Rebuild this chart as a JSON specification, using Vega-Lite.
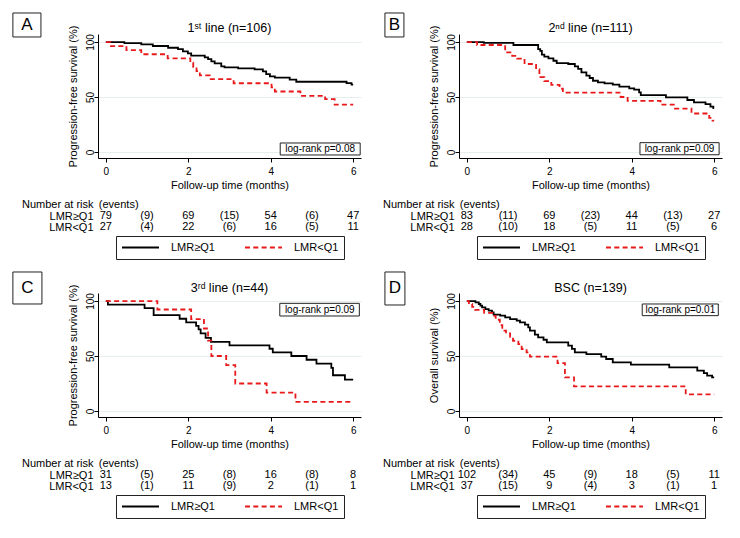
{
"$schema": "https://vega.github.io/schema/vega-lite/v6.json",
"background": "white",
"padding": {"left": 12, "top": 12, "right": 5, "bottom": 5},
"config": {
  "font": "Liberation Sans",
  "view": {"stroke": null},
  "axis": {"domainColor": "#000", "tickColor": "#000", "labelColor": "#000", "titleColor": "#000", "titleFontWeight": "normal", "labelFontSize": 10, "titleFontSize": 11, "tickSize": 4, "labelFlush": false, "labelOverlap": false},
  "legend": {"layout": {"anchor": "middle"}}
},
"datasets": {
  "panels": [
    {"p": "A", "letter": "A", "title": "1ˢᵗ line (n=106)", "logrank": "log-rank p=0.08"},
    {"p": "B", "letter": "B", "title": "2ⁿᵈ line (n=111)", "logrank": "log-rank p=0.09"},
    {"p": "C", "letter": "C", "title": "3ʳᵈ line (n=44)", "logrank": "log-rank p=0.09"},
    {"p": "D", "letter": "D", "title": "BSC (n=139)", "logrank": "log-rank p=0.01"}
  ],
  "risk": [
    {"p": "A", "row": "Number at risk", "t": 0, "label": "(events)"},
    {"p": "A", "row": "LMR≥Q1", "t": 0, "label": "79"}, {"p": "A", "row": "LMR≥Q1", "t": 1, "label": "(9)"}, {"p": "A", "row": "LMR≥Q1", "t": 2, "label": "69"}, {"p": "A", "row": "LMR≥Q1", "t": 3, "label": "(15)"}, {"p": "A", "row": "LMR≥Q1", "t": 4, "label": "54"}, {"p": "A", "row": "LMR≥Q1", "t": 5, "label": "(6)"}, {"p": "A", "row": "LMR≥Q1", "t": 6, "label": "47"},
    {"p": "A", "row": "LMR<Q1", "t": 0, "label": "27"}, {"p": "A", "row": "LMR<Q1", "t": 1, "label": "(4)"}, {"p": "A", "row": "LMR<Q1", "t": 2, "label": "22"}, {"p": "A", "row": "LMR<Q1", "t": 3, "label": "(6)"}, {"p": "A", "row": "LMR<Q1", "t": 4, "label": "16"}, {"p": "A", "row": "LMR<Q1", "t": 5, "label": "(5)"}, {"p": "A", "row": "LMR<Q1", "t": 6, "label": "11"},
    {"p": "B", "row": "Number at risk", "t": 0, "label": "(events)"},
    {"p": "B", "row": "LMR≥Q1", "t": 0, "label": "83"}, {"p": "B", "row": "LMR≥Q1", "t": 1, "label": "(11)"}, {"p": "B", "row": "LMR≥Q1", "t": 2, "label": "69"}, {"p": "B", "row": "LMR≥Q1", "t": 3, "label": "(23)"}, {"p": "B", "row": "LMR≥Q1", "t": 4, "label": "44"}, {"p": "B", "row": "LMR≥Q1", "t": 5, "label": "(13)"}, {"p": "B", "row": "LMR≥Q1", "t": 6, "label": "27"},
    {"p": "B", "row": "LMR<Q1", "t": 0, "label": "28"}, {"p": "B", "row": "LMR<Q1", "t": 1, "label": "(10)"}, {"p": "B", "row": "LMR<Q1", "t": 2, "label": "18"}, {"p": "B", "row": "LMR<Q1", "t": 3, "label": "(5)"}, {"p": "B", "row": "LMR<Q1", "t": 4, "label": "11"}, {"p": "B", "row": "LMR<Q1", "t": 5, "label": "(5)"}, {"p": "B", "row": "LMR<Q1", "t": 6, "label": "6"},
    {"p": "C", "row": "Number at risk", "t": 0, "label": "(events)"},
    {"p": "C", "row": "LMR≥Q1", "t": 0, "label": "31"}, {"p": "C", "row": "LMR≥Q1", "t": 1, "label": "(5)"}, {"p": "C", "row": "LMR≥Q1", "t": 2, "label": "25"}, {"p": "C", "row": "LMR≥Q1", "t": 3, "label": "(8)"}, {"p": "C", "row": "LMR≥Q1", "t": 4, "label": "16"}, {"p": "C", "row": "LMR≥Q1", "t": 5, "label": "(8)"}, {"p": "C", "row": "LMR≥Q1", "t": 6, "label": "8"},
    {"p": "C", "row": "LMR<Q1", "t": 0, "label": "13"}, {"p": "C", "row": "LMR<Q1", "t": 1, "label": "(1)"}, {"p": "C", "row": "LMR<Q1", "t": 2, "label": "11"}, {"p": "C", "row": "LMR<Q1", "t": 3, "label": "(9)"}, {"p": "C", "row": "LMR<Q1", "t": 4, "label": "2"}, {"p": "C", "row": "LMR<Q1", "t": 5, "label": "(1)"}, {"p": "C", "row": "LMR<Q1", "t": 6, "label": "1"},
    {"p": "D", "row": "Number at risk", "t": 0, "label": "(events)"},
    {"p": "D", "row": "LMR≥Q1", "t": 0, "label": "102"}, {"p": "D", "row": "LMR≥Q1", "t": 1, "label": "(34)"}, {"p": "D", "row": "LMR≥Q1", "t": 2, "label": "45"}, {"p": "D", "row": "LMR≥Q1", "t": 3, "label": "(9)"}, {"p": "D", "row": "LMR≥Q1", "t": 4, "label": "18"}, {"p": "D", "row": "LMR≥Q1", "t": 5, "label": "(5)"}, {"p": "D", "row": "LMR≥Q1", "t": 6, "label": "11"},
    {"p": "D", "row": "LMR<Q1", "t": 0, "label": "37"}, {"p": "D", "row": "LMR<Q1", "t": 1, "label": "(15)"}, {"p": "D", "row": "LMR<Q1", "t": 2, "label": "9"}, {"p": "D", "row": "LMR<Q1", "t": 3, "label": "(4)"}, {"p": "D", "row": "LMR<Q1", "t": 4, "label": "3"}, {"p": "D", "row": "LMR<Q1", "t": 5, "label": "(1)"}, {"p": "D", "row": "LMR<Q1", "t": 6, "label": "1"}
  ],
  "km": [
    {"p":"A","g":"LMR≥Q1","t":0,"s":100},{"p":"A","g":"LMR≥Q1","t":0.45,"s":99},{"p":"A","g":"LMR≥Q1","t":0.86,"s":97.9},{"p":"A","g":"LMR≥Q1","t":1.14,"s":96.4},{"p":"A","g":"LMR≥Q1","t":1.51,"s":94.8},{"p":"A","g":"LMR≥Q1","t":1.75,"s":93.6},{"p":"A","g":"LMR≥Q1","t":1.87,"s":91.5},{"p":"A","g":"LMR≥Q1","t":1.99,"s":89.7},{"p":"A","g":"LMR≥Q1","t":2.07,"s":87.6},{"p":"A","g":"LMR≥Q1","t":2.4,"s":86.1},{"p":"A","g":"LMR≥Q1","t":2.48,"s":84.5},{"p":"A","g":"LMR≥Q1","t":2.56,"s":82.4},{"p":"A","g":"LMR≥Q1","t":2.64,"s":80.6},{"p":"A","g":"LMR≥Q1","t":2.8,"s":77.9},{"p":"A","g":"LMR≥Q1","t":2.88,"s":77},{"p":"A","g":"LMR≥Q1","t":3.21,"s":76.1},{"p":"A","g":"LMR≥Q1","t":3.61,"s":75.2},{"p":"A","g":"LMR≥Q1","t":3.81,"s":73.3},{"p":"A","g":"LMR≥Q1","t":3.89,"s":70.9},{"p":"A","g":"LMR≥Q1","t":3.98,"s":68.8},{"p":"A","g":"LMR≥Q1","t":4.1,"s":67.6},{"p":"A","g":"LMR≥Q1","t":4.46,"s":65.8},{"p":"A","g":"LMR≥Q1","t":4.62,"s":63.9},{"p":"A","g":"LMR≥Q1","t":5.84,"s":62.7},{"p":"A","g":"LMR≥Q1","t":5.96,"s":61.2},{"p":"A","g":"LMR≥Q1","t":6,"s":61.2},
    {"p":"A","g":"LMR<Q1","t":0,"s":100},{"p":"A","g":"LMR<Q1","t":0.12,"s":96.3},{"p":"A","g":"LMR<Q1","t":0.5,"s":92.6},{"p":"A","g":"LMR<Q1","t":0.86,"s":88.9},{"p":"A","g":"LMR<Q1","t":1.5,"s":85.2},{"p":"A","g":"LMR<Q1","t":2.05,"s":81.3},{"p":"A","g":"LMR<Q1","t":2.12,"s":77.4},{"p":"A","g":"LMR<Q1","t":2.2,"s":73.6},{"p":"A","g":"LMR<Q1","t":2.28,"s":69.7},{"p":"A","g":"LMR<Q1","t":2.52,"s":66.3},{"p":"A","g":"LMR<Q1","t":3.1,"s":62.5},{"p":"A","g":"LMR<Q1","t":4.02,"s":58.8},{"p":"A","g":"LMR<Q1","t":4.1,"s":55},{"p":"A","g":"LMR<Q1","t":4.72,"s":51.1},{"p":"A","g":"LMR<Q1","t":5.32,"s":48.1},{"p":"A","g":"LMR<Q1","t":5.55,"s":43},{"p":"A","g":"LMR<Q1","t":6,"s":43},
    {"p":"B","g":"LMR≥Q1","t":0,"s":100},{"p":"B","g":"LMR≥Q1","t":0.41,"s":99.3},{"p":"B","g":"LMR≥Q1","t":1.13,"s":97.3},{"p":"B","g":"LMR≥Q1","t":1.73,"s":93.6},{"p":"B","g":"LMR≥Q1","t":1.78,"s":92},{"p":"B","g":"LMR≥Q1","t":1.82,"s":88.5},{"p":"B","g":"LMR≥Q1","t":1.88,"s":86.7},{"p":"B","g":"LMR≥Q1","t":1.98,"s":85.2},{"p":"B","g":"LMR≥Q1","t":2.1,"s":83},{"p":"B","g":"LMR≥Q1","t":2.18,"s":80.9},{"p":"B","g":"LMR≥Q1","t":2.46,"s":80},{"p":"B","g":"LMR≥Q1","t":2.62,"s":77.9},{"p":"B","g":"LMR≥Q1","t":2.7,"s":75.5},{"p":"B","g":"LMR≥Q1","t":2.78,"s":72.4},{"p":"B","g":"LMR≥Q1","t":2.9,"s":69.4},{"p":"B","g":"LMR≥Q1","t":2.98,"s":67.3},{"p":"B","g":"LMR≥Q1","t":3.06,"s":64.8},{"p":"B","g":"LMR≥Q1","t":3.18,"s":63.3},{"p":"B","g":"LMR≥Q1","t":3.34,"s":62.4},{"p":"B","g":"LMR≥Q1","t":3.54,"s":61.2},{"p":"B","g":"LMR≥Q1","t":3.7,"s":59.4},{"p":"B","g":"LMR≥Q1","t":3.94,"s":57.9},{"p":"B","g":"LMR≥Q1","t":4.06,"s":56.7},{"p":"B","g":"LMR≥Q1","t":4.18,"s":54.2},{"p":"B","g":"LMR≥Q1","t":4.22,"s":51.8},{"p":"B","g":"LMR≥Q1","t":4.83,"s":49.7},{"p":"B","g":"LMR≥Q1","t":5.35,"s":47.3},{"p":"B","g":"LMR≥Q1","t":5.51,"s":45.2},{"p":"B","g":"LMR≥Q1","t":5.79,"s":43.6},{"p":"B","g":"LMR≥Q1","t":5.91,"s":41.2},{"p":"B","g":"LMR≥Q1","t":5.98,"s":40},{"p":"B","g":"LMR≥Q1","t":6,"s":40},
    {"p":"B","g":"LMR<Q1","t":0,"s":100},{"p":"B","g":"LMR<Q1","t":0.25,"s":97.3},{"p":"B","g":"LMR<Q1","t":0.93,"s":90.6},{"p":"B","g":"LMR<Q1","t":1.1,"s":87.5},{"p":"B","g":"LMR<Q1","t":1.22,"s":85},{"p":"B","g":"LMR<Q1","t":1.4,"s":80},{"p":"B","g":"LMR<Q1","t":1.68,"s":75},{"p":"B","g":"LMR<Q1","t":1.76,"s":68},{"p":"B","g":"LMR<Q1","t":1.88,"s":64.5},{"p":"B","g":"LMR<Q1","t":2.05,"s":61},{"p":"B","g":"LMR<Q1","t":2.25,"s":57.5},{"p":"B","g":"LMR<Q1","t":2.33,"s":54},{"p":"B","g":"LMR<Q1","t":3.73,"s":50},{"p":"B","g":"LMR<Q1","t":3.9,"s":46.5},{"p":"B","g":"LMR<Q1","t":4.7,"s":43},{"p":"B","g":"LMR<Q1","t":5.05,"s":39.5},{"p":"B","g":"LMR<Q1","t":5.45,"s":35},{"p":"B","g":"LMR<Q1","t":5.88,"s":31},{"p":"B","g":"LMR<Q1","t":5.96,"s":28.5},{"p":"B","g":"LMR<Q1","t":6,"s":28.5},
    {"p":"C","g":"LMR≥Q1","t":0,"s":100},{"p":"C","g":"LMR≥Q1","t":0.05,"s":96.8},{"p":"C","g":"LMR≥Q1","t":0.94,"s":93.5},{"p":"C","g":"LMR≥Q1","t":1.16,"s":87.1},{"p":"C","g":"LMR≥Q1","t":1.79,"s":83.9},{"p":"C","g":"LMR≥Q1","t":1.95,"s":80.6},{"p":"C","g":"LMR≥Q1","t":2.19,"s":77.4},{"p":"C","g":"LMR≥Q1","t":2.25,"s":74.2},{"p":"C","g":"LMR≥Q1","t":2.3,"s":70.5},{"p":"C","g":"LMR≥Q1","t":2.42,"s":66.5},{"p":"C","g":"LMR≥Q1","t":2.55,"s":62.9},{"p":"C","g":"LMR≥Q1","t":3,"s":59.7},{"p":"C","g":"LMR≥Q1","t":3.97,"s":56.6},{"p":"C","g":"LMR≥Q1","t":4.05,"s":53.3},{"p":"C","g":"LMR≥Q1","t":4.5,"s":50},{"p":"C","g":"LMR≥Q1","t":4.87,"s":46.6},{"p":"C","g":"LMR≥Q1","t":5.11,"s":43},{"p":"C","g":"LMR≥Q1","t":5.47,"s":39.3},{"p":"C","g":"LMR≥Q1","t":5.51,"s":32.5},{"p":"C","g":"LMR≥Q1","t":5.8,"s":28.5},{"p":"C","g":"LMR≥Q1","t":6,"s":28.5},
    {"p":"C","g":"LMR<Q1","t":0,"s":100},{"p":"C","g":"LMR<Q1","t":1.25,"s":92.3},{"p":"C","g":"LMR<Q1","t":2.07,"s":83.6},{"p":"C","g":"LMR<Q1","t":2.38,"s":75},{"p":"C","g":"LMR<Q1","t":2.48,"s":64},{"p":"C","g":"LMR<Q1","t":2.56,"s":50},{"p":"C","g":"LMR<Q1","t":2.92,"s":41.7},{"p":"C","g":"LMR<Q1","t":3.14,"s":25},{"p":"C","g":"LMR<Q1","t":3.9,"s":16.7},{"p":"C","g":"LMR<Q1","t":4.6,"s":8.3},{"p":"C","g":"LMR<Q1","t":6,"s":8.3},
    {"p":"D","g":"LMR≥Q1","t":0,"s":100},{"p":"D","g":"LMR≥Q1","t":0.21,"s":98.8},{"p":"D","g":"LMR≥Q1","t":0.29,"s":97.3},{"p":"D","g":"LMR≥Q1","t":0.33,"s":95.8},{"p":"D","g":"LMR≥Q1","t":0.37,"s":94.2},{"p":"D","g":"LMR≥Q1","t":0.45,"s":92.7},{"p":"D","g":"LMR≥Q1","t":0.53,"s":91.2},{"p":"D","g":"LMR≥Q1","t":0.61,"s":89.7},{"p":"D","g":"LMR≥Q1","t":0.65,"s":87.6},{"p":"D","g":"LMR≥Q1","t":0.81,"s":86.7},{"p":"D","g":"LMR≥Q1","t":0.93,"s":85.2},{"p":"D","g":"LMR≥Q1","t":1.05,"s":83.6},{"p":"D","g":"LMR≥Q1","t":1.21,"s":82.1},{"p":"D","g":"LMR≥Q1","t":1.29,"s":80.6},{"p":"D","g":"LMR≥Q1","t":1.41,"s":78.5},{"p":"D","g":"LMR≥Q1","t":1.49,"s":76.1},{"p":"D","g":"LMR≥Q1","t":1.53,"s":73},{"p":"D","g":"LMR≥Q1","t":1.65,"s":69.4},{"p":"D","g":"LMR≥Q1","t":1.73,"s":67},{"p":"D","g":"LMR≥Q1","t":1.86,"s":64.8},{"p":"D","g":"LMR≥Q1","t":1.94,"s":62.4},{"p":"D","g":"LMR≥Q1","t":2.46,"s":59.4},{"p":"D","g":"LMR≥Q1","t":2.55,"s":56.5},{"p":"D","g":"LMR≥Q1","t":2.62,"s":53.3},{"p":"D","g":"LMR≥Q1","t":2.9,"s":51.8},{"p":"D","g":"LMR≥Q1","t":3.26,"s":49.4},{"p":"D","g":"LMR≥Q1","t":3.38,"s":47.3},{"p":"D","g":"LMR≥Q1","t":3.54,"s":44.2},{"p":"D","g":"LMR≥Q1","t":3.98,"s":42.1},{"p":"D","g":"LMR≥Q1","t":4.91,"s":39.7},{"p":"D","g":"LMR≥Q1","t":5.59,"s":36.7},{"p":"D","g":"LMR≥Q1","t":5.75,"s":34.5},{"p":"D","g":"LMR≥Q1","t":5.83,"s":32.1},{"p":"D","g":"LMR≥Q1","t":5.95,"s":30.6},{"p":"D","g":"LMR≥Q1","t":6,"s":30.6},
    {"p":"D","g":"LMR<Q1","t":0,"s":100},{"p":"D","g":"LMR<Q1","t":0.05,"s":97.3},{"p":"D","g":"LMR<Q1","t":0.13,"s":94.6},{"p":"D","g":"LMR<Q1","t":0.2,"s":91.9},{"p":"D","g":"LMR<Q1","t":0.42,"s":89.2},{"p":"D","g":"LMR<Q1","t":0.62,"s":86.5},{"p":"D","g":"LMR<Q1","t":0.7,"s":83},{"p":"D","g":"LMR<Q1","t":0.8,"s":78},{"p":"D","g":"LMR<Q1","t":0.86,"s":73},{"p":"D","g":"LMR<Q1","t":0.95,"s":70.5},{"p":"D","g":"LMR<Q1","t":1.05,"s":67.5},{"p":"D","g":"LMR<Q1","t":1.12,"s":63.9},{"p":"D","g":"LMR<Q1","t":1.25,"s":60.9},{"p":"D","g":"LMR<Q1","t":1.33,"s":56.4},{"p":"D","g":"LMR<Q1","t":1.45,"s":53.3},{"p":"D","g":"LMR<Q1","t":1.53,"s":49.4},{"p":"D","g":"LMR<Q1","t":2.2,"s":43.5},{"p":"D","g":"LMR<Q1","t":2.38,"s":30.6},{"p":"D","g":"LMR<Q1","t":2.6,"s":22.4},{"p":"D","g":"LMR<Q1","t":5.31,"s":15.2},{"p":"D","g":"LMR<Q1","t":6,"s":15.2}
  ]
},
"resolve": {"scale": {"color": "independent", "strokeDash": "independent"}, "legend": {"color": "independent", "strokeDash": "independent"}},
"spacing": 11,
"vconcat": [
 {
  "resolve": {"scale": {"color": "independent", "strokeDash": "independent"}, "legend": {"color": "independent", "strokeDash": "independent"}},
  "spacing": 21,
  "hconcat": [
   {
    "resolve": {"scale": {"color": "independent", "strokeDash": "independent"}, "legend": {"color": "independent", "strokeDash": "independent"}},
    "spacing": 8,
    "vconcat": [
     {
      "width": 263, "height": 124,
      "layer": [
       {"data": {"name": "km"}, "transform": [{"filter": "datum.p === 'A'"}],
        "mark": {"type": "line", "interpolate": "step-after", "strokeWidth": 1.8},
        "encoding": {
         "x": {"field": "t", "type": "quantitative", "scale": {"domain": [-0.19, 6.19], "nice": false, "zero": false}, "axis": {"values": [0, 2, 4, 6], "title": "Follow-up time (months)", "grid": false, "labelPadding": 4, "titlePadding": 3}},
         "y": {"field": "s", "type": "quantitative", "scale": {"domain": [-5.45, 107.3], "nice": false, "zero": false}, "axis": {"values": [0, 25, 50, 75, 100], "title": "Progression-free survival (%)", "grid": true, "gridColor": "#e6eef0", "labelAngle": -90, "labelAlign": "center", "labelBaseline": "alphabetic", "labelPadding": 1, "titlePadding": 7}},
         "color": {"field": "g", "type": "nominal", "scale": {"domain": ["LMR≥Q1", "LMR<Q1"], "range": ["#000000", "#e8191b"]}, "legend": null},
         "strokeDash": {"field": "g", "type": "nominal", "scale": {"domain": ["LMR≥Q1", "LMR<Q1"], "range": [[1, 0], [5, 3.3]]}, "legend": null}
        }},
       {"data": {"name": "panels"}, "transform": [{"filter": "datum.p === 'A'"}],
        "mark": {"type": "rect", "fill": "white", "stroke": "#222", "strokeWidth": 1},
        "encoding": {"x": {"datum": -2.255}, "x2": {"datum": -1.574}, "y": {"datum": 104.6}, "y2": {"datum": 126.4}}},
       {"data": {"name": "panels"}, "transform": [{"filter": "datum.p === 'A'"}],
        "mark": {"type": "text", "fontSize": 17, "baseline": "middle", "align": "center", "color": "#000"},
        "encoding": {"x": {"datum": -1.915}, "y": {"datum": 115.5}, "text": {"field": "letter"}}},
       {"data": {"name": "panels"}, "transform": [{"filter": "datum.p === 'A'"}],
        "mark": {"type": "text", "fontSize": 12.5, "baseline": "middle", "align": "center", "color": "#000"},
        "encoding": {"x": {"datum": 3}, "y": {"datum": 112.8}, "text": {"field": "title"}}},
       {"data": {"name": "panels"}, "transform": [{"filter": "datum.p === 'A'"}],
        "mark": {"type": "rect", "fill": "white", "stroke": "#222", "strokeWidth": 1},
        "encoding": {"x": {"datum": 4.23}, "x2": {"datum": 6.17}, "y": {"datum": -2.7}, "y2": {"datum": 8.2}}},
       {"data": {"name": "panels"}, "transform": [{"filter": "datum.p === 'A'"}],
        "mark": {"type": "text", "fontSize": 10, "baseline": "middle", "align": "center", "color": "#000"},
        "encoding": {"x": {"datum": 5.2}, "y": {"datum": 2.7}, "text": {"field": "logrank"}}}
      ]
     },
     {
      "width": 263, "height": 34,
      "layer": [
       {"data": {"name": "risk"}, "transform": [{"filter": "datum.p === 'A' && datum.row !== 'Number at risk'"}],
        "mark": {"type": "text", "fontSize": 11, "align": "center", "baseline": "middle", "color": "#000"},
        "encoding": {
         "x": {"field": "t", "type": "quantitative", "scale": {"domain": [-0.19, 6.19], "nice": false, "zero": false}, "axis": null},
         "y": {"field": "row", "type": "nominal", "scale": {"domain": ["Number at risk", "LMR≥Q1", "LMR<Q1"]}, "axis": {"title": null, "domain": false, "ticks": false, "grid": false, "labelPadding": 5, "labelFontSize": 11}},
         "text": {"field": "label"}
        }},
       {"data": {"name": "risk"}, "transform": [{"filter": "datum.p === 'A' && datum.row === 'Number at risk'"}],
        "mark": {"type": "text", "fontSize": 11, "align": "left", "baseline": "middle", "dx": -7, "color": "#000"},
        "encoding": {"x": {"field": "t", "type": "quantitative"}, "y": {"field": "row", "type": "nominal"}, "text": {"field": "label"}}},
       {"data": {"name": "km"}, "transform": [{"filter": "false"}],
        "mark": {"type": "line", "strokeWidth": 1.8},
        "encoding": {
         "x": {"field": "t", "type": "quantitative"},
         "y": {"field": "g", "type": "nominal"},
         "color": {"field": "g", "type": "nominal", "scale": {"domain": ["LMR≥Q1", "LMR<Q1"], "range": ["#000000", "#e8191b"]}, "legend": {"title": null, "orient": "bottom", "direction": "horizontal", "symbolType": "stroke", "symbolSize": 1369, "symbolStrokeWidth": 1.8, "clipHeight": 13, "labelFontSize": 11, "labelColor": "#000", "labelOffset": 11, "columnPadding": 29, "padding": 5, "strokeColor": "#222", "offset": 3}},
         "strokeDash": {"field": "g", "type": "nominal", "scale": {"domain": ["LMR≥Q1", "LMR<Q1"], "range": [[1, 0], [5, 3.3]]}, "legend": {"title": null, "orient": "bottom", "direction": "horizontal", "symbolType": "stroke", "symbolSize": 1369, "symbolStrokeWidth": 1.8, "clipHeight": 13, "labelFontSize": 11, "labelColor": "#000", "labelOffset": 11, "columnPadding": 29, "padding": 5, "strokeColor": "#222", "offset": 3}}
        }}
      ]
     }
    ]
   },
   {
    "resolve": {"scale": {"color": "independent", "strokeDash": "independent"}, "legend": {"color": "independent", "strokeDash": "independent"}},
    "spacing": 8,
    "vconcat": [
     {
      "width": 263, "height": 124,
      "layer": [
       {"data": {"name": "km"}, "transform": [{"filter": "datum.p === 'B'"}],
        "mark": {"type": "line", "interpolate": "step-after", "strokeWidth": 1.8},
        "encoding": {
         "x": {"field": "t", "type": "quantitative", "scale": {"domain": [-0.19, 6.19], "nice": false, "zero": false}, "axis": {"values": [0, 2, 4, 6], "title": "Follow-up time (months)", "grid": false, "labelPadding": 4, "titlePadding": 3}},
         "y": {"field": "s", "type": "quantitative", "scale": {"domain": [-5.45, 107.3], "nice": false, "zero": false}, "axis": {"values": [0, 25, 50, 75, 100], "title": "Progression-free survival (%)", "grid": true, "gridColor": "#e6eef0", "labelAngle": -90, "labelAlign": "center", "labelBaseline": "alphabetic", "labelPadding": 1, "titlePadding": 7}},
         "color": {"field": "g", "type": "nominal", "scale": {"domain": ["LMR≥Q1", "LMR<Q1"], "range": ["#000000", "#e8191b"]}, "legend": null},
         "strokeDash": {"field": "g", "type": "nominal", "scale": {"domain": ["LMR≥Q1", "LMR<Q1"], "range": [[1, 0], [5, 3.3]]}, "legend": null}
        }},
       {"data": {"name": "panels"}, "transform": [{"filter": "datum.p === 'B'"}],
        "mark": {"type": "rect", "fill": "white", "stroke": "#222", "strokeWidth": 1},
        "encoding": {"x": {"datum": -1.987}, "x2": {"datum": -1.526}, "y": {"datum": 104.6}, "y2": {"datum": 126.4}}},
       {"data": {"name": "panels"}, "transform": [{"filter": "datum.p === 'B'"}],
        "mark": {"type": "text", "fontSize": 17, "baseline": "middle", "align": "center", "color": "#000"},
        "encoding": {"x": {"datum": -1.757}, "y": {"datum": 115.5}, "text": {"field": "letter"}}},
       {"data": {"name": "panels"}, "transform": [{"filter": "datum.p === 'B'"}],
        "mark": {"type": "text", "fontSize": 12.5, "baseline": "middle", "align": "center", "color": "#000"},
        "encoding": {"x": {"datum": 3}, "y": {"datum": 112.8}, "text": {"field": "title"}}},
       {"data": {"name": "panels"}, "transform": [{"filter": "datum.p === 'B'"}],
        "mark": {"type": "rect", "fill": "white", "stroke": "#222", "strokeWidth": 1},
        "encoding": {"x": {"datum": 4.2}, "x2": {"datum": 6.12}, "y": {"datum": -2.5}, "y2": {"datum": 8.5}}},
       {"data": {"name": "panels"}, "transform": [{"filter": "datum.p === 'B'"}],
        "mark": {"type": "text", "fontSize": 10, "baseline": "middle", "align": "center", "color": "#000"},
        "encoding": {"x": {"datum": 5.16}, "y": {"datum": 3}, "text": {"field": "logrank"}}}
      ]
     },
     {
      "width": 263, "height": 34,
      "layer": [
       {"data": {"name": "risk"}, "transform": [{"filter": "datum.p === 'B' && datum.row !== 'Number at risk'"}],
        "mark": {"type": "text", "fontSize": 11, "align": "center", "baseline": "middle", "color": "#000"},
        "encoding": {
         "x": {"field": "t", "type": "quantitative", "scale": {"domain": [-0.19, 6.19], "nice": false, "zero": false}, "axis": null},
         "y": {"field": "row", "type": "nominal", "scale": {"domain": ["Number at risk", "LMR≥Q1", "LMR<Q1"]}, "axis": {"title": null, "domain": false, "ticks": false, "grid": false, "labelPadding": 5, "labelFontSize": 11}},
         "text": {"field": "label"}
        }},
       {"data": {"name": "risk"}, "transform": [{"filter": "datum.p === 'B' && datum.row === 'Number at risk'"}],
        "mark": {"type": "text", "fontSize": 11, "align": "left", "baseline": "middle", "dx": -7, "color": "#000"},
        "encoding": {"x": {"field": "t", "type": "quantitative"}, "y": {"field": "row", "type": "nominal"}, "text": {"field": "label"}}},
       {"data": {"name": "km"}, "transform": [{"filter": "false"}],
        "mark": {"type": "line", "strokeWidth": 1.8},
        "encoding": {
         "x": {"field": "t", "type": "quantitative"},
         "y": {"field": "g", "type": "nominal"},
         "color": {"field": "g", "type": "nominal", "scale": {"domain": ["LMR≥Q1", "LMR<Q1"], "range": ["#000000", "#e8191b"]}, "legend": {"title": null, "orient": "bottom", "direction": "horizontal", "symbolType": "stroke", "symbolSize": 1369, "symbolStrokeWidth": 1.8, "clipHeight": 13, "labelFontSize": 11, "labelColor": "#000", "labelOffset": 11, "columnPadding": 29, "padding": 5, "strokeColor": "#222", "offset": 3}},
         "strokeDash": {"field": "g", "type": "nominal", "scale": {"domain": ["LMR≥Q1", "LMR<Q1"], "range": [[1, 0], [5, 3.3]]}, "legend": {"title": null, "orient": "bottom", "direction": "horizontal", "symbolType": "stroke", "symbolSize": 1369, "symbolStrokeWidth": 1.8, "clipHeight": 13, "labelFontSize": 11, "labelColor": "#000", "labelOffset": 11, "columnPadding": 29, "padding": 5, "strokeColor": "#222", "offset": 3}}
        }}
      ]
     }
    ]
   }
  ]
 },
 {
  "resolve": {"scale": {"color": "independent", "strokeDash": "independent"}, "legend": {"color": "independent", "strokeDash": "independent"}},
  "spacing": 21,
  "hconcat": [
   {
    "resolve": {"scale": {"color": "independent", "strokeDash": "independent"}, "legend": {"color": "independent", "strokeDash": "independent"}},
    "spacing": 8,
    "vconcat": [
     {
      "width": 263, "height": 124,
      "layer": [
       {"data": {"name": "km"}, "transform": [{"filter": "datum.p === 'C'"}],
        "mark": {"type": "line", "interpolate": "step-after", "strokeWidth": 1.8},
        "encoding": {
         "x": {"field": "t", "type": "quantitative", "scale": {"domain": [-0.19, 6.19], "nice": false, "zero": false}, "axis": {"values": [0, 2, 4, 6], "title": "Follow-up time (months)", "grid": false, "labelPadding": 4, "titlePadding": 3}},
         "y": {"field": "s", "type": "quantitative", "scale": {"domain": [-5.45, 107.3], "nice": false, "zero": false}, "axis": {"values": [0, 25, 50, 75, 100], "title": "Progression-free survival (%)", "grid": true, "gridColor": "#e6eef0", "labelAngle": -90, "labelAlign": "center", "labelBaseline": "alphabetic", "labelPadding": 1, "titlePadding": 7}},
         "color": {"field": "g", "type": "nominal", "scale": {"domain": ["LMR≥Q1", "LMR<Q1"], "range": ["#000000", "#e8191b"]}, "legend": null},
         "strokeDash": {"field": "g", "type": "nominal", "scale": {"domain": ["LMR≥Q1", "LMR<Q1"], "range": [[1, 0], [5, 3.3]]}, "legend": null}
        }},
       {"data": {"name": "panels"}, "transform": [{"filter": "datum.p === 'C'"}],
        "mark": {"type": "rect", "fill": "white", "stroke": "#222", "strokeWidth": 1},
        "encoding": {"x": {"datum": -2.255}, "x2": {"datum": -1.55}, "y": {"datum": 97.3}, "y2": {"datum": 126.4}}},
       {"data": {"name": "panels"}, "transform": [{"filter": "datum.p === 'C'"}],
        "mark": {"type": "text", "fontSize": 17, "baseline": "middle", "align": "center", "color": "#000"},
        "encoding": {"x": {"datum": -1.9}, "y": {"datum": 111.8}, "text": {"field": "letter"}}},
       {"data": {"name": "panels"}, "transform": [{"filter": "datum.p === 'C'"}],
        "mark": {"type": "text", "fontSize": 12.5, "baseline": "middle", "align": "center", "color": "#000"},
        "encoding": {"x": {"datum": 3}, "y": {"datum": 111.6}, "text": {"field": "title"}}},
       {"data": {"name": "panels"}, "transform": [{"filter": "datum.p === 'C'"}],
        "mark": {"type": "rect", "fill": "white", "stroke": "#222", "strokeWidth": 1},
        "encoding": {"x": {"datum": 4.22}, "x2": {"datum": 6.15}, "y": {"datum": 86.4}, "y2": {"datum": 97.9}}},
       {"data": {"name": "panels"}, "transform": [{"filter": "datum.p === 'C'"}],
        "mark": {"type": "text", "fontSize": 10, "baseline": "middle", "align": "center", "color": "#000"},
        "encoding": {"x": {"datum": 5.19}, "y": {"datum": 92.1}, "text": {"field": "logrank"}}}
      ]
     },
     {
      "width": 263, "height": 34,
      "layer": [
       {"data": {"name": "risk"}, "transform": [{"filter": "datum.p === 'C' && datum.row !== 'Number at risk'"}],
        "mark": {"type": "text", "fontSize": 11, "align": "center", "baseline": "middle", "color": "#000"},
        "encoding": {
         "x": {"field": "t", "type": "quantitative", "scale": {"domain": [-0.19, 6.19], "nice": false, "zero": false}, "axis": null},
         "y": {"field": "row", "type": "nominal", "scale": {"domain": ["Number at risk", "LMR≥Q1", "LMR<Q1"]}, "axis": {"title": null, "domain": false, "ticks": false, "grid": false, "labelPadding": 5, "labelFontSize": 11}},
         "text": {"field": "label"}
        }},
       {"data": {"name": "risk"}, "transform": [{"filter": "datum.p === 'C' && datum.row === 'Number at risk'"}],
        "mark": {"type": "text", "fontSize": 11, "align": "left", "baseline": "middle", "dx": -7, "color": "#000"},
        "encoding": {"x": {"field": "t", "type": "quantitative"}, "y": {"field": "row", "type": "nominal"}, "text": {"field": "label"}}},
       {"data": {"name": "km"}, "transform": [{"filter": "false"}],
        "mark": {"type": "line", "strokeWidth": 1.8},
        "encoding": {
         "x": {"field": "t", "type": "quantitative"},
         "y": {"field": "g", "type": "nominal"},
         "color": {"field": "g", "type": "nominal", "scale": {"domain": ["LMR≥Q1", "LMR<Q1"], "range": ["#000000", "#e8191b"]}, "legend": {"title": null, "orient": "bottom", "direction": "horizontal", "symbolType": "stroke", "symbolSize": 1369, "symbolStrokeWidth": 1.8, "clipHeight": 13, "labelFontSize": 11, "labelColor": "#000", "labelOffset": 11, "columnPadding": 29, "padding": 5, "strokeColor": "#222", "offset": 3}},
         "strokeDash": {"field": "g", "type": "nominal", "scale": {"domain": ["LMR≥Q1", "LMR<Q1"], "range": [[1, 0], [5, 3.3]]}, "legend": {"title": null, "orient": "bottom", "direction": "horizontal", "symbolType": "stroke", "symbolSize": 1369, "symbolStrokeWidth": 1.8, "clipHeight": 13, "labelFontSize": 11, "labelColor": "#000", "labelOffset": 11, "columnPadding": 29, "padding": 5, "strokeColor": "#222", "offset": 3}}
        }}
      ]
     }
    ]
   },
   {
    "resolve": {"scale": {"color": "independent", "strokeDash": "independent"}, "legend": {"color": "independent", "strokeDash": "independent"}},
    "spacing": 8,
    "vconcat": [
     {
      "width": 263, "height": 124,
      "layer": [
       {"data": {"name": "km"}, "transform": [{"filter": "datum.p === 'D'"}],
        "mark": {"type": "line", "interpolate": "step-after", "strokeWidth": 1.8},
        "encoding": {
         "x": {"field": "t", "type": "quantitative", "scale": {"domain": [-0.19, 6.19], "nice": false, "zero": false}, "axis": {"values": [0, 2, 4, 6], "title": "Follow-up time (months)", "grid": false, "labelPadding": 4, "titlePadding": 3}},
         "y": {"field": "s", "type": "quantitative", "scale": {"domain": [-5.45, 107.3], "nice": false, "zero": false}, "axis": {"values": [0, 25, 50, 75, 100], "title": "Overall survival (%)", "grid": true, "gridColor": "#e6eef0", "labelAngle": -90, "labelAlign": "center", "labelBaseline": "alphabetic", "labelPadding": 1, "titlePadding": 7}},
         "color": {"field": "g", "type": "nominal", "scale": {"domain": ["LMR≥Q1", "LMR<Q1"], "range": ["#000000", "#e8191b"]}, "legend": null},
         "strokeDash": {"field": "g", "type": "nominal", "scale": {"domain": ["LMR≥Q1", "LMR<Q1"], "range": [[1, 0], [5, 3.3]]}, "legend": null}
        }},
       {"data": {"name": "panels"}, "transform": [{"filter": "datum.p === 'D'"}],
        "mark": {"type": "rect", "fill": "white", "stroke": "#222", "strokeWidth": 1},
        "encoding": {"x": {"datum": -1.987}, "x2": {"datum": -1.502}, "y": {"datum": 96.4}, "y2": {"datum": 126.4}}},
       {"data": {"name": "panels"}, "transform": [{"filter": "datum.p === 'D'"}],
        "mark": {"type": "text", "fontSize": 17, "baseline": "middle", "align": "center", "color": "#000"},
        "encoding": {"x": {"datum": -1.745}, "y": {"datum": 111.4}, "text": {"field": "letter"}}},
       {"data": {"name": "panels"}, "transform": [{"filter": "datum.p === 'D'"}],
        "mark": {"type": "text", "fontSize": 12.5, "baseline": "middle", "align": "center", "color": "#000"},
        "encoding": {"x": {"datum": 3}, "y": {"datum": 111.6}, "text": {"field": "title"}}},
       {"data": {"name": "panels"}, "transform": [{"filter": "datum.p === 'D'"}],
        "mark": {"type": "rect", "fill": "white", "stroke": "#222", "strokeWidth": 1},
        "encoding": {"x": {"datum": 4.255}, "x2": {"datum": 6.1}, "y": {"datum": 86.7}, "y2": {"datum": 97.3}}},
       {"data": {"name": "panels"}, "transform": [{"filter": "datum.p === 'D'"}],
        "mark": {"type": "text", "fontSize": 10, "baseline": "middle", "align": "center", "color": "#000"},
        "encoding": {"x": {"datum": 5.18}, "y": {"datum": 92}, "text": {"field": "logrank"}}}
      ]
     },
     {
      "width": 263, "height": 34,
      "layer": [
       {"data": {"name": "risk"}, "transform": [{"filter": "datum.p === 'D' && datum.row !== 'Number at risk'"}],
        "mark": {"type": "text", "fontSize": 11, "align": "center", "baseline": "middle", "color": "#000"},
        "encoding": {
         "x": {"field": "t", "type": "quantitative", "scale": {"domain": [-0.19, 6.19], "nice": false, "zero": false}, "axis": null},
         "y": {"field": "row", "type": "nominal", "scale": {"domain": ["Number at risk", "LMR≥Q1", "LMR<Q1"]}, "axis": {"title": null, "domain": false, "ticks": false, "grid": false, "labelPadding": 5, "labelFontSize": 11}},
         "text": {"field": "label"}
        }},
       {"data": {"name": "risk"}, "transform": [{"filter": "datum.p === 'D' && datum.row === 'Number at risk'"}],
        "mark": {"type": "text", "fontSize": 11, "align": "left", "baseline": "middle", "dx": -7, "color": "#000"},
        "encoding": {"x": {"field": "t", "type": "quantitative"}, "y": {"field": "row", "type": "nominal"}, "text": {"field": "label"}}},
       {"data": {"name": "km"}, "transform": [{"filter": "false"}],
        "mark": {"type": "line", "strokeWidth": 1.8},
        "encoding": {
         "x": {"field": "t", "type": "quantitative"},
         "y": {"field": "g", "type": "nominal"},
         "color": {"field": "g", "type": "nominal", "scale": {"domain": ["LMR≥Q1", "LMR<Q1"], "range": ["#000000", "#e8191b"]}, "legend": {"title": null, "orient": "bottom", "direction": "horizontal", "symbolType": "stroke", "symbolSize": 1369, "symbolStrokeWidth": 1.8, "clipHeight": 13, "labelFontSize": 11, "labelColor": "#000", "labelOffset": 11, "columnPadding": 29, "padding": 5, "strokeColor": "#222", "offset": 3}},
         "strokeDash": {"field": "g", "type": "nominal", "scale": {"domain": ["LMR≥Q1", "LMR<Q1"], "range": [[1, 0], [5, 3.3]]}, "legend": {"title": null, "orient": "bottom", "direction": "horizontal", "symbolType": "stroke", "symbolSize": 1369, "symbolStrokeWidth": 1.8, "clipHeight": 13, "labelFontSize": 11, "labelColor": "#000", "labelOffset": 11, "columnPadding": 29, "padding": 5, "strokeColor": "#222", "offset": 3}}
        }}
      ]
     }
    ]
   }
  ]
 }
]
}
